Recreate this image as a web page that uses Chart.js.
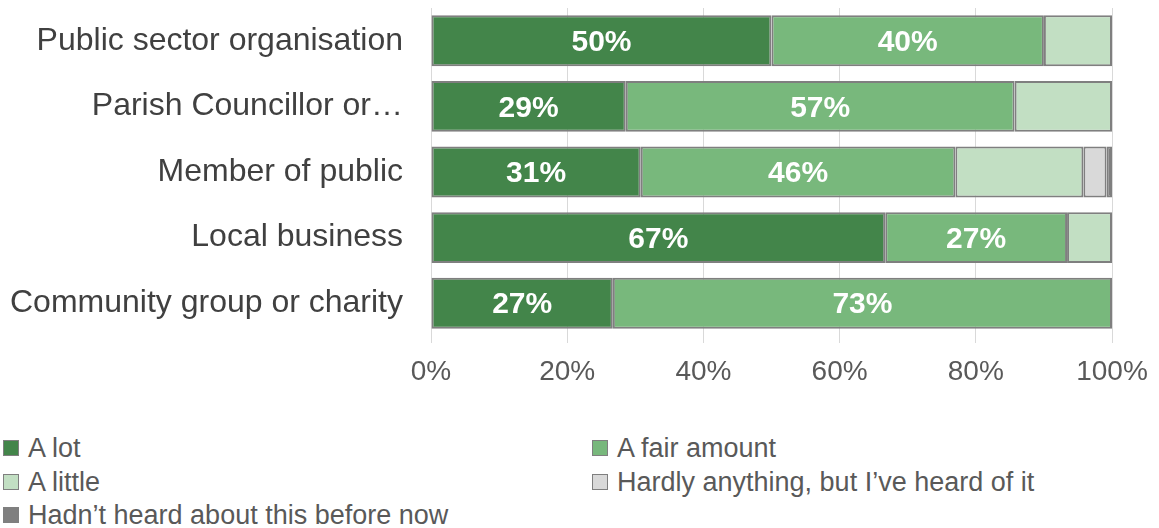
<!DOCTYPE html>
<html>
<head>
<meta charset="utf-8">
<script src="https://cdn.jsdelivr.net/npm/chart.js@4/dist/chart.umd.min.js"></script>
<style>
  body { margin: 0; background: #fff; }
  #wrap { position: relative; width: 1159px; height: 528px; }
  #box { position: absolute; left: 0; top: 0; width: 1159px; height: 400px; }
  #legend { position: absolute; left: 0; top: 432px; width: 1159px; font-family: "Liberation Sans", Arial, sans-serif; font-size: 27px; color: #595959; }
  .item { position: absolute; height: 33px; line-height: 33px; white-space: nowrap; }
  .swatch { position: absolute; left: 0; top: 8px; width: 14px; height: 14px; border: 1.5px solid #7f7f7f; }
  .item span { position: absolute; left: 25px; top: 0; }
</style>
</head>
<body>
<div id="wrap">
  <div id="box"><canvas id="myChart"></canvas></div>
  <div id="legend"></div>
</div>
<script>
// data
var categories = ['Public sector organisation', 'Parish Councillor or\u2026', 'Member of public', 'Local business', 'Community group or charity'];
var aLot = [50, 28.6, 30.8, 66.7, 26.7];
var aFairAmount = [40, 57.1, 46.2, 26.7, 73.3];
var aLittle = [10, 14.3, 18.8, 6.6, 0];
var hardlyAnything = [0, 0, 3.4, 0, 0];
var hadntHeard = [0, 0, 0.8, 0, 0];
var seriesNames = ['A lot', 'A fair amount', 'A little', 'Hardly anything, but I\u2019ve heard of it', 'Hadn\u2019t heard about this before now'];
var tickValues = [0, 20, 40, 60, 80, 100];

var colours = ['#43854a', '#78b87c', '#c2dfc3', '#d9d9d9', '#7f7f7f'];
var values = [aLot, aFairAmount, aLittle, hardlyAnything, hadntHeard];

var datasets = values.map(function(v, i) {
  return {
    label: seriesNames[i],
    data: v,
    backgroundColor: colours[i],
    borderColor: '#7f7f7f',
    borderWidth: 2,
    borderSkipped: false,
    categoryPercentage: 1,
    barPercentage: 0.776
  };
});

// white % labels on the first two series
var barLabels = {
  id: 'barLabels',
  afterDatasetsDraw: function(chart) {
    var c = chart.ctx;
    c.save();
    c.font = 'bold 30px "Liberation Sans", Arial, sans-serif';
    c.fillStyle = '#ffffff';
    c.textAlign = 'center';
    c.textBaseline = 'middle';
    [0, 1].forEach(function(di) {
      chart.getDatasetMeta(di).data.forEach(function(bar, j) {
        var v = chart.data.datasets[di].data[j];
        if (!v) return;
        var p = bar.getCenterPoint();
        c.fillText(Math.round(v) + '%', p.x, p.y + 2);
      });
    });
    c.restore();
  }
};

var ctx = document.getElementById('myChart');
var myChart = new Chart(ctx, {
  type: 'bar',
  data: { labels: categories, datasets: datasets },
  options: {
    indexAxis: 'y',
    responsive: true,
    maintainAspectRatio: false,
    animation: false,
    layout: { padding: { top: 8, right: 47, left: 0, bottom: 0 } },
    plugins: { legend: { display: false }, tooltip: { enabled: false } },
    scales: {
      x: {
        stacked: true,
        min: 0,
        max: 100,
        afterBuildTicks: function(scale) {
          scale.ticks = tickValues.map(function(t) { return { value: t }; });
        },
        afterFit: function(scale) {
          scale.height = 64;
          scale.paddingLeft = 0;
          scale.paddingRight = 0;
        },
        grid: { color: '#d9d9d9', lineWidth: 1, drawTicks: true, tickLength: 7 },
        border: { display: false },
        ticks: {
          padding: 12,
          color: '#595959',
          font: { family: '"Liberation Sans", Arial, sans-serif', size: 28 },
          callback: function(v) { return v + '%'; }
        }
      },
      y: {
        stacked: true,
        afterFit: function(scale) {
          scale.width = 431;
          scale.paddingTop = 0;
          scale.paddingBottom = 0;
        },
        grid: { display: false, drawTicks: false },
        border: { display: true, color: '#d9d9d9', width: 1 },
        ticks: {
          padding: 28,
          color: '#404040',
          font: { family: '"Liberation Sans", Arial, sans-serif', size: 32 }
        }
      }
    }
  },
  plugins: [barLabels]
});

// legend, two columns
var legendEl = document.getElementById('legend');
var items = Chart.defaults.plugins.legend.labels.generateLabels(myChart);
items.forEach(function(it, i) {
  var d = document.createElement('div');
  d.className = 'item';
  d.style.left = (i % 2 === 0 ? 3 : 592) + 'px';
  d.style.top = (Math.floor(i / 2) * 33.5) + 'px';
  var s = document.createElement('div');
  s.className = 'swatch';
  s.style.background = it.fillStyle;
  var t = document.createElement('span');
  t.textContent = it.text;
  d.appendChild(s);
  d.appendChild(t);
  legendEl.appendChild(d);
});
</script>
</body>
</html>
